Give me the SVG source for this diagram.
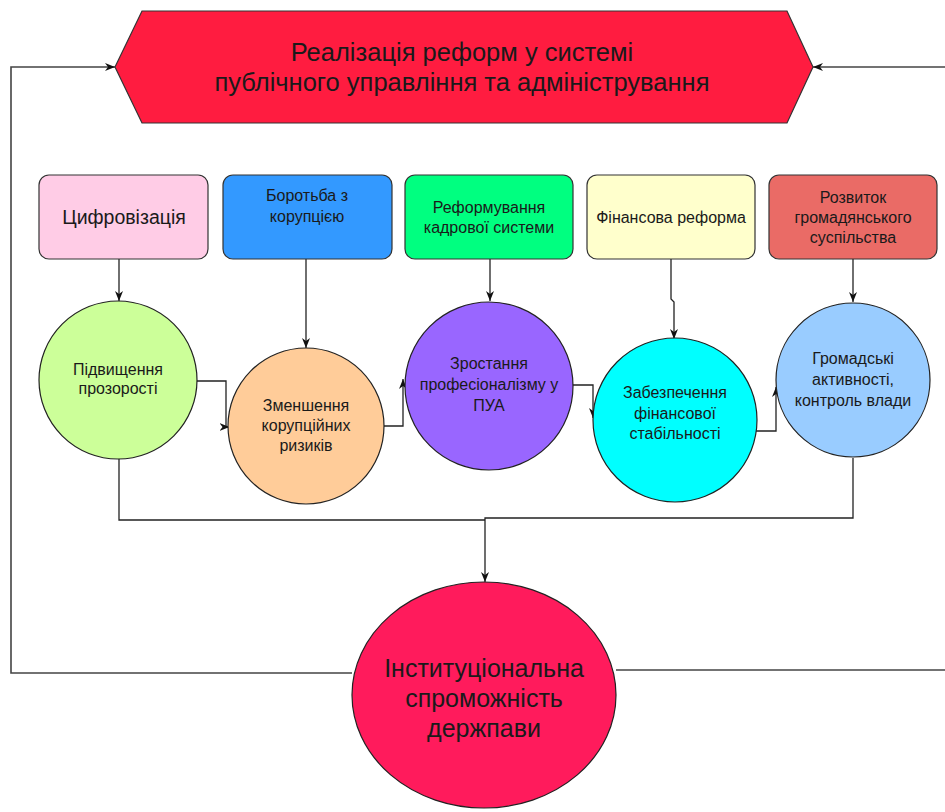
<svg xmlns="http://www.w3.org/2000/svg" width="945" height="812" viewBox="0 0 945 812">
<style>
text{font-family:"Liberation Sans",Arial,sans-serif;fill:#1a1a1a;text-anchor:middle}
.box{stroke:#333;stroke-width:1.2}
.c{stroke:#222;stroke-width:1.2}
.conn{fill:none;stroke:#222;stroke-width:1.3}
.fb{fill:none;stroke:#444;stroke-width:1.6}
.t16{font-size:16px}
</style>
<defs>
<marker id="arr" viewBox="0 0 10 8" refX="10" refY="4" markerWidth="10" markerHeight="8" markerUnits="userSpaceOnUse" orient="auto">
<path d="M0,0 L10,4 L0,8 L3,4 z" fill="#111"/>
</marker>
</defs>
<g id="connectors">
<path class="fb" d="M352,673 H11 V67 H115" marker-end="url(#arr)"/>
<path class="fb" d="M616,670 H945"/>
<path class="fb" d="M945,67 H813" marker-end="url(#arr)"/>
<path class="conn" d="M119,259 V301" marker-end="url(#arr)"/>
<path class="conn" d="M306,259 V348" marker-end="url(#arr)"/>
<path class="conn" d="M490,259 V301" marker-end="url(#arr)"/>
<path class="conn" d="M671,259 V299 L674,302 V339" marker-end="url(#arr)"/>
<path class="conn" d="M853,259 V302" marker-end="url(#arr)"/>
<path class="conn" d="M197,381 H226 V427 L229.5,427" marker-end="url(#arr)"/>
<path class="conn" d="M384,426 H403 V379" marker-end="url(#arr)"/>
<path class="conn" d="M572,385 H593 V418" marker-end="url(#arr)"/>
<path class="conn" d="M756,431 H776 V387" marker-end="url(#arr)"/>
<path class="conn" d="M119,459 V520 H485"/>
<path class="conn" d="M853,458 V518 H485 V582" marker-end="url(#arr)"/>
</g>
<g id="banner">
<polygon points="115,67 142,11 787,11 813,67 787,123 142,123" fill="#FF1C40" stroke="#333" stroke-width="1.2"/>
<text x="462" y="61" font-size="25.5">Реалізація реформ у системі</text>
<text x="462" y="91" font-size="25.5">публічного управління та адміністрування</text>
</g>
<g id="box-digital">
<rect class="box" x="39" y="175" width="169" height="84" rx="10" fill="#FFCCE6"/>
<text x="124" y="224" font-size="19.5">Цифровізація</text>
</g>
<g id="box-corruption">
<rect class="box" x="223" y="175" width="169" height="84" rx="10" fill="#3399FF"/>
<text class="t16" x="307" y="201">Боротьба з</text>
<text class="t16" x="307" y="222">корупцією</text>
</g>
<g id="box-personnel">
<rect class="box" x="405" y="175" width="168" height="84" rx="10" fill="#00FF80"/>
<text class="t16" x="489" y="213">Реформування</text>
<text class="t16" x="489" y="233">кадрової системи</text>
</g>
<g id="box-finance">
<rect class="box" x="587" y="175" width="168" height="84" rx="10" fill="#FFFFCC"/>
<text class="t16" x="671" y="223">Фінансова реформа</text>
</g>
<g id="box-civil">
<rect class="box" x="769" y="175" width="168" height="84" rx="10" fill="#EA6B66"/>
<text class="t16" x="853" y="203">Розвиток</text>
<text class="t16" x="853" y="223">громадянського</text>
<text class="t16" x="853" y="243">суспільства</text>
</g>
<g id="c-transparency">
<circle class="c" cx="118" cy="380" r="79" fill="#CCFF99"/>
<text class="t16" x="118" y="375">Підвищення</text>
<text class="t16" x="118" y="394">прозорості</text>
</g>
<g id="c-corruption">
<circle class="c" cx="306" cy="426" r="78" fill="#FFCC99"/>
<text class="t16" x="306" y="411">Зменшення</text>
<text class="t16" x="306" y="431">корупційних</text>
<text class="t16" x="306" y="451">ризиків</text>
</g>
<g id="c-professional">
<circle class="c" cx="489" cy="386" r="84" fill="#9966FF"/>
<text class="t16" x="489" y="369">Зростання</text>
<text class="t16" x="489" y="390">професіоналізму у</text>
<text class="t16" x="489" y="411">ПУА</text>
</g>
<g id="c-finance">
<circle class="c" cx="675" cy="420" r="82" fill="#00FFFF"/>
<text class="t16" x="675" y="398">Забезпечення</text>
<text class="t16" x="675" y="419">фінансової</text>
<text class="t16" x="675" y="439">стабільності</text>
</g>
<g id="c-civic">
<circle class="c" cx="853" cy="380" r="77" fill="#99CCFF"/>
<text class="t16" x="853" y="364">Громадські</text>
<text class="t16" x="853" y="385">активності,</text>
<text class="t16" x="853" y="406">контроль влади</text>
</g>
<g id="e-capacity">
<ellipse cx="484" cy="695" rx="132" ry="113" fill="#FF1B5C" stroke="#222" stroke-width="1.2"/>
<text x="484" y="677" font-size="25">Інституціональна</text>
<text x="484" y="707" font-size="25">спроможність</text>
<text x="484" y="737" font-size="25">держпави</text>
</g>
</svg>
